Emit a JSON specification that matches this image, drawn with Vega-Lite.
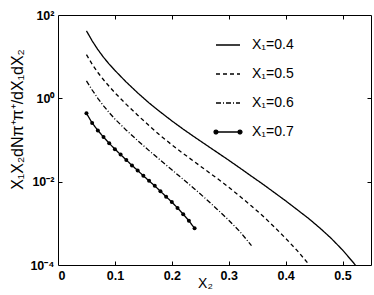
{
 "$schema": "https://vega.github.io/schema/vega-lite/v6.json",
 "width": 313, "height": 250,
 "autosize": "none",
 "padding": {"left": 58, "top": 15, "right": 3, "bottom": 30},
 "background": "white",
 "config": {
  "view": {"stroke": "black", "strokeWidth": 1},
  "font": "Liberation Sans",
  "axis": {"grid": false, "domainColor": "black", "tickColor": "black", "labelColor": "black", "titleColor": "black",
           "labelFont": "Liberation Sans", "labelFontWeight": "bold", "labelFontSize": 12.5,
           "titleFont": "Liberation Sans", "titleFontWeight": "normal", "titleFontSize": 15,
           "tickSize": 4, "tickWidth": 1, "labelPadding": 4, "domain": false}
 },
 "data": {"values": [
  {"s":"X₁=0.4","x":0.05,"y":41.7},{"s":"X₁=0.4","x":0.06,"y":24.0},{"s":"X₁=0.4","x":0.07,"y":14.8},{"s":"X₁=0.4","x":0.08,"y":9.66},{"s":"X₁=0.4","x":0.09,"y":6.61},{"s":"X₁=0.4","x":0.10,"y":4.68},{"s":"X₁=0.4","x":0.12,"y":2.45},{"s":"X₁=0.4","x":0.14,"y":1.35},{"s":"X₁=0.4","x":0.16,"y":0.776},{"s":"X₁=0.4","x":0.18,"y":0.468},{"s":"X₁=0.4","x":0.20,"y":0.288},{"s":"X₁=0.4","x":0.22,"y":0.182},{"s":"X₁=0.4","x":0.24,"y":0.1175},{"s":"X₁=0.4","x":0.26,"y":0.0767},{"s":"X₁=0.4","x":0.28,"y":0.0501},{"s":"X₁=0.4","x":0.30,"y":0.0327},{"s":"X₁=0.4","x":0.32,"y":0.0211},{"s":"X₁=0.4","x":0.34,"y":0.0135},{"s":"X₁=0.4","x":0.36,"y":0.00871},{"s":"X₁=0.4","x":0.38,"y":0.00550},{"s":"X₁=0.4","x":0.40,"y":0.00347},{"s":"X₁=0.4","x":0.42,"y":0.00214},{"s":"X₁=0.4","x":0.44,"y":0.00132},{"s":"X₁=0.4","x":0.46,"y":0.000776},{"s":"X₁=0.4","x":0.48,"y":0.000437},{"s":"X₁=0.4","x":0.50,"y":0.000229},{"s":"X₁=0.4","x":0.52,"y":0.000110},{"s":"X₁=0.4","x":0.525,"y":0.0000891},
  {"s":"X₁=0.5","x":0.05,"y":11.2},{"s":"X₁=0.5","x":0.06,"y":6.61},{"s":"X₁=0.5","x":0.07,"y":4.17},{"s":"X₁=0.5","x":0.08,"y":2.79},{"s":"X₁=0.5","x":0.09,"y":1.93},{"s":"X₁=0.5","x":0.10,"y":1.36},{"s":"X₁=0.5","x":0.12,"y":0.716},{"s":"X₁=0.5","x":0.14,"y":0.394},{"s":"X₁=0.5","x":0.16,"y":0.221},{"s":"X₁=0.5","x":0.18,"y":0.127},{"s":"X₁=0.5","x":0.20,"y":0.0767},{"s":"X₁=0.5","x":0.22,"y":0.0473},{"s":"X₁=0.5","x":0.24,"y":0.0299},{"s":"X₁=0.5","x":0.26,"y":0.0188},{"s":"X₁=0.5","x":0.28,"y":0.0119},{"s":"X₁=0.5","x":0.30,"y":0.00733},{"s":"X₁=0.5","x":0.32,"y":0.00442},{"s":"X₁=0.5","x":0.34,"y":0.00260},{"s":"X₁=0.5","x":0.36,"y":0.00150},{"s":"X₁=0.5","x":0.38,"y":0.000822},{"s":"X₁=0.5","x":0.40,"y":0.000437},{"s":"X₁=0.5","x":0.42,"y":0.000224},{"s":"X₁=0.5","x":0.44,"y":0.000107},
  {"s":"X₁=0.6","x":0.05,"y":2.63},{"s":"X₁=0.6","x":0.06,"y":1.585},{"s":"X₁=0.6","x":0.07,"y":1.0},{"s":"X₁=0.6","x":0.08,"y":0.661},{"s":"X₁=0.6","x":0.09,"y":0.452},{"s":"X₁=0.6","x":0.10,"y":0.320},{"s":"X₁=0.6","x":0.12,"y":0.172},{"s":"X₁=0.6","x":0.14,"y":0.0966},{"s":"X₁=0.6","x":0.16,"y":0.0556},{"s":"X₁=0.6","x":0.18,"y":0.0327},{"s":"X₁=0.6","x":0.20,"y":0.0193},{"s":"X₁=0.6","x":0.22,"y":0.01135},{"s":"X₁=0.6","x":0.24,"y":0.00668},{"s":"X₁=0.6","x":0.26,"y":0.00385},{"s":"X₁=0.6","x":0.28,"y":0.00216},{"s":"X₁=0.6","x":0.30,"y":0.00119},{"s":"X₁=0.6","x":0.32,"y":0.000624},{"s":"X₁=0.6","x":0.34,"y":0.000292},
  {"s":"X₁=0.7","x":0.05,"y":0.4365},{"s":"X₁=0.7","x":0.06,"y":0.257},{"s":"X₁=0.7","x":0.07,"y":0.1698},{"s":"X₁=0.7","x":0.08,"y":0.1175},{"s":"X₁=0.7","x":0.09,"y":0.0832},{"s":"X₁=0.7","x":0.10,"y":0.0603},{"s":"X₁=0.7","x":0.11,"y":0.0447},{"s":"X₁=0.7","x":0.12,"y":0.0331},{"s":"X₁=0.7","x":0.13,"y":0.0245},{"s":"X₁=0.7","x":0.14,"y":0.0186},{"s":"X₁=0.7","x":0.15,"y":0.0138},{"s":"X₁=0.7","x":0.16,"y":0.01047},{"s":"X₁=0.7","x":0.17,"y":0.00794},{"s":"X₁=0.7","x":0.18,"y":0.00589},{"s":"X₁=0.7","x":0.19,"y":0.00437},{"s":"X₁=0.7","x":0.20,"y":0.00324},{"s":"X₁=0.7","x":0.21,"y":0.00234},{"s":"X₁=0.7","x":0.22,"y":0.00166},{"s":"X₁=0.7","x":0.23,"y":0.00115},{"s":"X₁=0.7","x":0.24,"y":0.000759}
 ]},
 "layer": [
  {
   "mark": {"type": "line", "clip": true, "color": "black"},
   "encoding": {
    "x": {"field": "x", "type": "quantitative", "scale": {"domain": [0, 0.55], "nice": false, "zero": false},
          "axis": {"orient": "bottom", "values": [0, 0.1, 0.2, 0.3, 0.4, 0.5], "format": "~g", "ticks": false, "title": "X₂", "titleFontSize": 14, "titleX": 147, "titleY": 22, "titleBaseline": "alphabetic"}},
    "y": {"field": "y", "type": "quantitative", "scale": {"type": "log", "domain": [0.0001, 100], "nice": false},
          "axis": {"orient": "left", "values": [0.0001, 0.01, 1, 100], "ticks": false, "labelExpr": "datum.value >= 100 ? '10²' : datum.value >= 1 ? '10⁰' : datum.value >= 0.01 ? '10⁻²' : '10⁻⁴'", "title": "X₁X₂dNπ⁺π⁺/dX₁dX₂", "titleFontSize": 16, "titleY": 104, "titlePadding": 4}},
    "detail": {"field": "s"},
    "strokeDash": {"field": "s", "type": "nominal",
      "scale": {"domain": ["X₁=0.4", "X₁=0.5", "X₁=0.6", "X₁=0.7"], "range": [[1, 0], [4, 3], [5, 2, 1, 2], [1, 0]]},
      "legend": {"title": null, "orient": "none", "legendX": 157, "legendY": 17, "symbolType": "stroke", "symbolSize": 576,
                 "symbolStrokeColor": "black", "symbolStrokeWidth": 1.2, "labelFontSize": 14, "labelFont": "Liberation Sans",
                 "labelColor": "black", "labelOffset": 11, "rowPadding": 9, "padding": 0,
                 "encode": {"symbols": {"update": {
                   "shape": {"signal": "datum.value == 'X₁=0.7' ? 'M-1,0L1,0M-0.84,0A0.16,0.16,0,1,1,-1.16,0A0.16,0.16,0,1,1,-0.84,0M1.16,0A0.16,0.16,0,1,1,0.84,0A0.16,0.16,0,1,1,1.16,0' : 'stroke'"},
                   "fill": {"value": "black"},
                   "stroke": {"value": "black"},
                   "strokeWidth": {"signal": "datum.value == 'X₁=0.7' ? 1.6 : datum.value == 'X₁=0.6' ? 0.8 : 1.2"}
                 }}}}},
    "strokeWidth": {"field": "s", "type": "nominal",
      "scale": {"domain": ["X₁=0.4", "X₁=0.5", "X₁=0.6", "X₁=0.7"], "range": [1.3, 1.3, 0.8, 1.6]}, "legend": null}
   }
  },
  {
   "transform": [{"filter": "datum.s == 'X₁=0.7'"}],
   "mark": {"type": "point", "filled": true, "size": 16, "color": "black", "opacity": 1},
   "encoding": {
    "x": {"field": "x", "type": "quantitative", "axis": null},
    "y": {"field": "y", "type": "quantitative", "scale": {"type": "log"}, "axis": null}
   }
  },
  {
   "mark": {"type": "line", "opacity": 0},
   "encoding": {
    "x": {"field": "x", "type": "quantitative", "axis": {"orient": "bottom", "offset": -4, "values": [0.1, 0.2, 0.3, 0.4, 0.5], "labels": false, "title": null}},
    "y": {"field": "y", "type": "quantitative", "scale": {"type": "log"}, "axis": {"orient": "left", "offset": -4, "values": [0.01, 1], "labels": false, "title": null}},
    "detail": {"field": "s"}
   }
  },
  {
   "mark": {"type": "line", "opacity": 0},
   "encoding": {
    "x": {"field": "x", "type": "quantitative", "axis": {"orient": "bottom", "offset": -250, "values": [0.1, 0.2, 0.3, 0.4, 0.5], "labels": false, "title": null}},
    "y": {"field": "y", "type": "quantitative", "scale": {"type": "log"}, "axis": {"orient": "left", "offset": -313, "values": [0.01, 1], "labels": false, "title": null}},
    "detail": {"field": "s"}
   }
  }
 ],
 "resolve": {"axis": {"x": "independent", "y": "independent"}}
}
